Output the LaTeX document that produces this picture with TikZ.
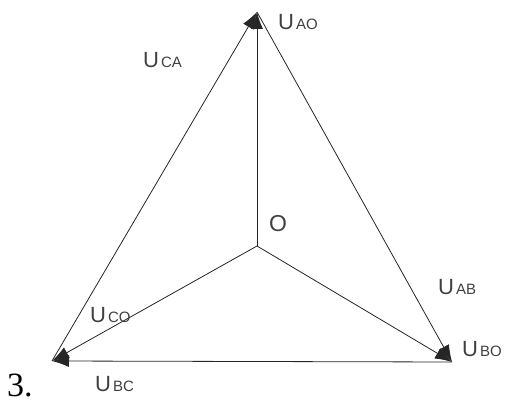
\documentclass[tikz,border=0pt]{standalone}
\usepackage{fontspec}
\setmainfont{Liberation Serif}
\newfontfamily\lblfont{Liberation Sans}
\usetikzlibrary{arrows.meta}
\newcommand{\volt}[1]{{\fontsize{22}{22}\selectfont U}\hspace{2pt}{\fontsize{15}{15}\selectfont #1}}
\begin{document}
\begin{tikzpicture}[x=1pt, y=-1pt,
    phasor/.style={draw=black!85, line width=0.8pt, -{Latex[length=17pt,width=12pt]}},
    lbl/.style={inner sep=0pt, anchor=base west, text=black!75, font=\lblfont}]
    \useasboundingbox (0,0) rectangle (507,406);
    
    \coordinate (O) at (257,246);
    \coordinate (A) at (257,12);
    \coordinate (B) at (452,362);
    \coordinate (C) at (52,361);
    
    \draw[phasor] (O) -- (A);
    \draw[phasor] (O) -- (B);
    \draw[phasor] (O) -- (C);
    \draw[phasor] (C) -- (A);
    \draw[phasor] (A) -- (B);
    \draw[phasor] (B) -- (C);
    
    \node[lbl] (uao) at (278,30) {\volt{AO}};
    \node[lbl] (uca) at (143,68) {\volt{CA}};
    \node[lbl, font=\lblfont\fontsize{23}{23}\selectfont] (o) at (269,232) {O};
    \node[lbl] (uab) at (438,295) {\volt{AB}};
    \node[lbl] (ubo) at (462,357) {\volt{BO}};
    \node[lbl] (uco) at (90,323) {\volt{CO}};
    \node[lbl] (ubc) at (95,392) {\volt{BC}};
    \node[inner sep=0pt, anchor=base west, font=\fontsize{34}{34}\selectfont] (num) at (7,397) {3.};
\end{tikzpicture}
\end{document}
